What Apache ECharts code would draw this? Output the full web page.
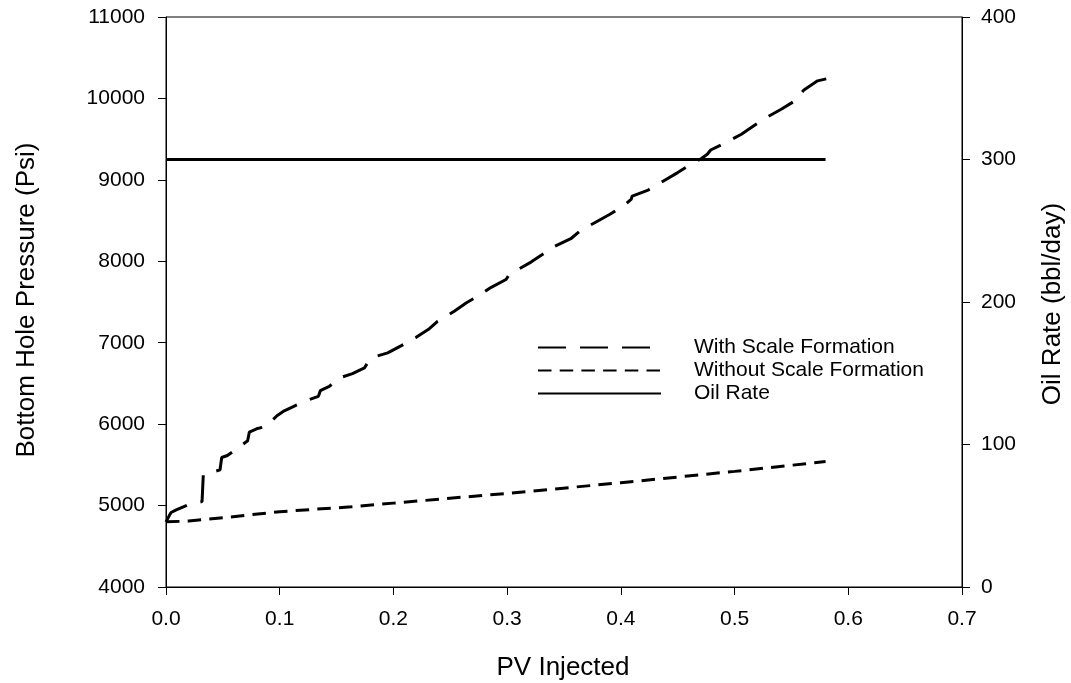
<!DOCTYPE html>
<html><head><meta charset="utf-8">
<script src="https://cdn.jsdelivr.net/npm/echarts@6/dist/echarts.min.js"></script>
<style>html,body{margin:0;padding:0;background:#fff}#c{width:1071px;height:683px}</style>
</head><body><div id="c"></div>
<script>
// PV injected vs bottom hole pressure (psi), with scale formation
const withScalePV = [0,0.003,0.0045,0.009,0.0205,0.0317,0.0328,0.036,0.0475,0.049,0.054,0.063,0.0718,0.0733,0.0806,0.088,0.0976,0.104,0.1216,0.134,0.1357,0.1436,0.1525,0.164,0.1745,0.179,0.183,0.195,0.207,0.22,0.2316,0.2388,0.2535,0.2639,0.274,0.286,0.299,0.302,0.321,0.333,0.336,0.356,0.365,0.377,0.39,0.402,0.409,0.41,0.424,0.435,0.45,0.459,0.4705,0.476,0.479,0.494,0.506,0.523,0.529,0.541,0.554,0.558,0.561,0.573,0.582];
const withScaleBHP = [4800,4880,4915,4947,5017,5049,5377,5390,5439,5590,5615,5706,5796,5903,5947,5972,6103,6164,6279,6341,6411,6464,6567,6620,6690,6792,6825,6875,6964,7066,7173,7263,7386,7488,7570,7680,7776,7838,7990,8104,8145,8277,8383,8473,8575,8678,8760,8801,8875,8966,9089,9170,9260,9314,9367,9470,9560,9723,9773,9867,9978,10055,10105,10216,10245];
// without scale formation
const noScalePV = [0,0.02,0.05,0.1,0.163,0.2,0.3,0.4,0.5,0.58];
const noScaleBHP = [4800,4810,4850,4925,4985,5030,5150,5280,5420,5540];
// oil rate (bbl/day)
const oilPV = [0,0.58];
const oilRate = [300,300];
const seriesNames = ['With Scale Formation','Without Scale Formation','Oil Rate'];
const xTitle = 'PV Injected';
const yLeftTitle = 'Bottom Hole Pressure (Psi)';
const yRightTitle = 'Oil Rate (bbl/day)';

const zip = (a,b) => a.map((v,i)=>[v,b[i]]);
const FONT = 'Liberation Sans';
const chart = echarts.init(document.getElementById('c'), null, {renderer:'canvas'});
const axisCommon = {
  axisLine:{show:true,lineStyle:{color:'#000',width:1}},
  axisTick:{show:true,inside:false,length:8,lineStyle:{color:'#000'}},
  splitLine:{show:false},
};
const lbl = {color:'#000',fontFamily:FONT,fontSize:21};
const ttl = {fontFamily:FONT,fontSize:26,fill:'#000',align:'center',verticalAlign:'middle'};
chart.setOption({
  animation:false,
  backgroundColor:'#fff',
  grid:{left:166,right:109,top:17,bottom:96,show:true,borderColor:'#000',borderWidth:1,backgroundColor:'transparent'},
  legend:{
    orient:'vertical', left:532, top:332, itemWidth:123, itemHeight:14, itemGap:2,
    data:seriesNames,
    itemStyle:{opacity:0},
    textStyle:{fontFamily:FONT,fontSize:21,color:'#000',padding:[0,0,0,28]},
    inactiveColor:'#000'
  },
  xAxis:{type:'value',min:0,max:0.7,interval:0.1,...axisCommon,
    axisLabel:{...lbl,margin:22,formatter:v=>v.toFixed(1)}},
  yAxis:[
    {type:'value',position:'left',min:4000,max:11000,interval:1000,...axisCommon,
      axisLabel:{...lbl,margin:21,formatter:v=>String(v)}},
    {type:'value',position:'right',min:0,max:400,interval:100,...axisCommon,
      axisLabel:{...lbl,margin:19,formatter:v=>String(v)}}
  ],
  graphic:[
    {type:'text',x:563,y:668,style:{text:xTitle,...ttl}},
    {type:'text',x:27,y:300,rotation:Math.PI/2,style:{text:yLeftTitle,...ttl}},
    {type:'text',x:1053,y:304,rotation:Math.PI/2,style:{text:yRightTitle,...ttl}}
  ],
  series:[
    {name:seriesNames[0],type:'line',yAxisIndex:0,symbol:'none',data:zip(withScalePV,withScaleBHP),
      lineStyle:{color:'#000',width:3,type:[28,14]},itemStyle:{color:'#000'}},
    {name:seriesNames[1],type:'line',yAxisIndex:0,symbol:'none',data:zip(noScalePV,noScaleBHP),
      lineStyle:{color:'#000',width:3,type:[13.5,8.2]},itemStyle:{color:'#000'}},
    {name:seriesNames[2],type:'line',yAxisIndex:1,symbol:'none',data:zip(oilPV,oilRate),
      lineStyle:{color:'#000',width:3,type:'solid'},itemStyle:{color:'#000'}}
  ]
});
</script></body></html>
